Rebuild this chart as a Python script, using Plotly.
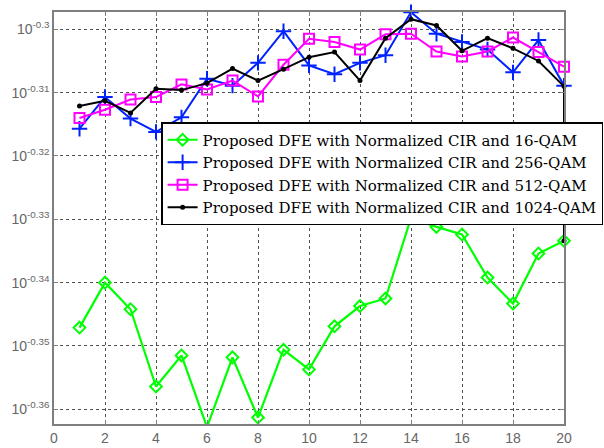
import plotly.graph_objects as go

# Iteration / sample index on the horizontal axis
x_idx = list(range(1, 21))

# log10 of the plotted quantity for each configuration
log_16qam = [-0.3471, -0.3400, -0.3442, -0.3564, -0.3515, -0.3628, -0.3518, -0.3613, -0.3506, -0.3537,
             -0.3469, -0.3437, -0.3425, -0.3298, -0.3312, -0.3324, -0.3392, -0.3433, -0.3354, -0.3334]
log_256qam = [-0.3157, -0.3107, -0.3141, -0.3162, -0.3139, -0.3078, -0.3089, -0.3053, -0.3003, -0.3057,
              -0.3071, -0.3053, -0.3041, -0.2973, -0.3007, -0.3020, -0.3032, -0.3068, -0.3017, -0.3089]
log_512qam = [-0.3140, -0.3127, -0.3111, -0.3107, -0.3087, -0.3095, -0.3081, -0.3106, -0.3056, -0.3015,
              -0.3020, -0.3032, -0.3008, -0.3007, -0.3035, -0.3043, -0.3035, -0.3013, -0.3036, -0.3059]
# the 1024-QAM curve closes with a drop at the last index
x_idx_1024 = x_idx + [20]
log_1024qam = [-0.3121, -0.3113, -0.3132, -0.3094, -0.3096, -0.3085, -0.3062, -0.3081, -0.3063, -0.3044,
               -0.3036, -0.3081, -0.3014, -0.2984, -0.2994, -0.3034, -0.3014, -0.3030, -0.3050, -0.3090,
               -0.3334]

series_names = [
    "Proposed DFE with Normalized CIR and 16-QAM",
    "Proposed DFE with Normalized CIR and 256-QAM",
    "Proposed DFE with Normalized CIR and 512-QAM",
    "Proposed DFE with Normalized CIR and 1024-QAM",
]

y_tick_exps = ["-0.3", "-0.31", "-0.32", "-0.33", "-0.34", "-0.35", "-0.36"]
x_ticks = list(range(0, 21, 2))


def lin(vals):
    return [10 ** v for v in vals]


fig = go.Figure()

fig.add_trace(go.Scatter(
    x=x_idx, y=lin(log_16qam), name=series_names[0], mode="lines+markers",
    line=dict(color="#00ff00", width=2.2),
    marker=dict(symbol="diamond-open", size=9, color="#00ff00", line=dict(width=2)),
    cliponaxis=False,
))
fig.add_trace(go.Scatter(
    x=x_idx, y=lin(log_256qam), name=series_names[1], mode="lines+markers",
    line=dict(color="#0022ff", width=2),
    marker=dict(symbol="cross-thin-open", size=11, color="#0022ff", line=dict(width=2, color="#0022ff")),
    cliponaxis=False,
))
fig.add_trace(go.Scatter(
    x=x_idx, y=lin(log_512qam), name=series_names[2], mode="lines+markers",
    line=dict(color="#ff00ff", width=2),
    marker=dict(symbol="square-open", size=10, color="#ff00ff", line=dict(width=2)),
    cliponaxis=False,
))
fig.add_trace(go.Scatter(
    x=x_idx_1024, y=lin(log_1024qam), name=series_names[3], mode="lines+markers",
    line=dict(color="#000000", width=2),
    marker=dict(symbol="circle", size=5, color="#000000"),
    cliponaxis=False,
))

axis_common = dict(
    showline=True, linecolor="#7f7f7f", linewidth=1.5, mirror="allticks",
    ticks="inside", ticklen=4, tickcolor="#7f7f7f",
    showgrid=True, gridcolor="#505050", griddash="dot", gridwidth=1,
    zeroline=False,
    tickfont=dict(family="Liberation Sans", size=14, color="#666666"),
)

fig.update_xaxes(range=[0, 20], tickvals=x_ticks, ticktext=[str(v) for v in x_ticks], **axis_common)
fig.update_yaxes(
    type="log", range=[-0.36232, -0.29727],
    tickvals=[10 ** float(e) for e in y_tick_exps],
    ticktext=["10<sup>" + e + "</sup>" for e in y_tick_exps],
    **axis_common,
)

fig.update_layout(
    width=604, height=448,
    margin=dict(l=54, r=40, t=12, b=24, autoexpand=False),
    paper_bgcolor="white", plot_bgcolor="white",
    showlegend=True,
    legend=dict(
        x=0.21, y=0.733, xanchor="left", yanchor="top",
        bgcolor="white", bordercolor="#000000", borderwidth=1.5,
        font=dict(family="DejaVu Serif", size=15, color="#000000"),
        tracegroupgap=0, itemwidth=30,
    ),
)

fig.write_html("out.html")
